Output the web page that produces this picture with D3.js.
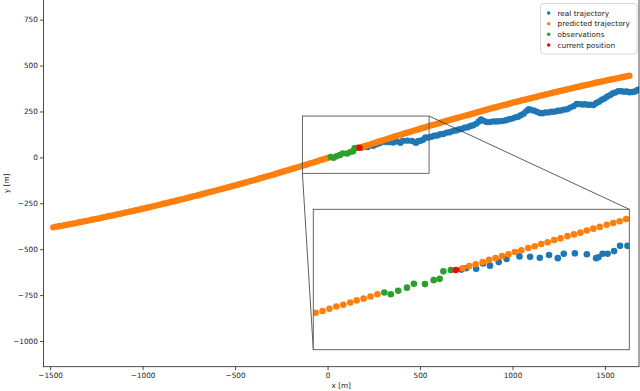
<!DOCTYPE html>
<html><head><meta charset="utf-8">
<script src="https://cdn.jsdelivr.net/npm/d3@7"></script>
<style>
html,body{margin:0;padding:0;background:#fff;}
svg{display:block;font-family:"DejaVu Sans",sans-serif;}
</style></head>
<body><svg id="chart" width="640" height="391"></svg>
<script>
// ---- data ----
const predLeftX = [-1483,-1468,-1453,-1438,-1424,-1409,-1394,-1379,-1364,-1349,-1334,-1320,-1305,-1290,-1275,-1260,-1245,-1230,-1216,-1201,-1186,-1171,-1156,-1141,-1126,-1112,-1097,-1082,-1067,-1052,-1037,-1022,-1007,-993,-978,-963,-948,-933,-918,-903,-889,-874,-859,-844,-829,-814,-799,-785,-770,-755,-740,-725,-710,-695,-681,-666,-651,-636,-621,-606,-591,-577,-562,-547,-532,-517,-502,-487,-473,-458,-443,-428,-413,-398,-383,-369,-354,-339,-324,-309,-294,-279,-264,-250,-235,-220,-205,-190,-175,-160,-146,-131,-116,-101,-86,-71,-56,-42,-27,-12,3];
const predLeftY = [-381,-378,-375,-373,-370,-367,-364,-361,-358,-355,-352,-349,-346,-343,-340,-337,-334,-331,-327,-324,-321,-318,-315,-311,-308,-305,-302,-298,-295,-292,-288,-285,-281,-278,-274,-271,-267,-264,-260,-257,-253,-250,-246,-242,-239,-235,-231,-228,-224,-220,-216,-212,-209,-205,-201,-197,-193,-189,-185,-181,-177,-173,-169,-165,-161,-157,-153,-149,-145,-141,-137,-132,-128,-124,-120,-115,-111,-107,-102,-98,-94,-89,-85,-80,-76,-71,-67,-62,-58,-53,-49,-44,-40,-35,-30,-26,-21,-16,-12,-7,-2];
const predRightX = [188,202,216,231,245,259,273,287,301,315,330,344,358,372,386,400,415,429,443,457,471,485,500,514,528,542,556,570,584,599,613,627,641,655,669,684,698,712,726,740,754,769,783,797,811,825,839,854,868,882,896,910,924,938,953,967,981,995,1009,1023,1038,1052,1066,1080,1094,1108,1123,1137,1151,1165,1179,1193,1208,1222,1236,1250,1264,1278,1292,1307,1321,1335,1349,1363,1377,1392,1406,1420,1434,1448,1462,1477,1491,1505,1519,1533,1547,1562,1576,1590,1604,1618,1632];
const predRightY = [57,62,66,71,76,80,85,89,94,98,103,107,112,116,121,125,130,134,138,143,147,151,156,160,164,169,173,177,181,185,190,194,198,202,206,210,214,218,222,226,230,234,238,242,246,250,254,258,262,266,270,273,277,281,285,288,292,296,300,303,307,311,314,318,321,325,328,332,336,339,343,346,349,353,356,360,363,366,370,373,376,380,383,386,390,393,396,399,402,406,409,412,415,418,421,424,427,430,433,436,439,442,445];
const realX = [185,195,217,232,247,266,283,311,334,355,375,394,407,431,457,477,482,491,502,516,529,545,562,578,593,610,626,644,660,676,693,709,725,741,758,773,788,805,818,830,845,860,877,895,912,930,948,965,982,998,1015,1030,1045,1060,1075,1088,1102,1118,1133,1148,1162,1178,1195,1212,1228,1245,1262,1278,1295,1312,1330,1347,1362,1378,1393,1408,1423,1438,1453,1468,1483,1498,1513,1528,1543,1558,1572,1588,1603,1618,1633,1648,1662,1676,1690];
const realY = [54,57,56,68,63,71,78,84,83,81,87,80,90,91,89,80,82,90,90,96,108,108,112,118,119,126,127,135,137,143,146,152,155,161,164,171,175,184,196,207,199,193,192,196,195,197,199,202,208,211,218,221,229,238,252,262,258,254,248,242,240,244,245,249,249,254,255,260,262,271,279,291,290,288,289,286,287,285,296,303,314,321,332,339,349,354,361,360,358,359,355,356,359,367,372];
const obsX = [18,32,48,67,82,106,125,138,146,162];
const obsY = [2,-2,6,13,22,21,30,33,50,53];
const curX = [173];
const curY = [53];
const xTicks = [-1500,-1000,-500,0,500,1000,1500];
const yTicks = [-1000,-750,-500,-250,0,250,500,750];
const legendLabels = ["real trajectory","predicted trajectory","observations","current position"];
const colors = ["#1f77b4","#ff7f0e","#2ca02c","#ff0000"];
const xLabel = "x [m]", yLabel = "y [m]";
const zoomX = [-136, 549], zoomRectY = [-87, 225], zoomViewY = [-128, 191];

const zip = (xs, ys) => xs.map((x, i) => [x, ys[i]]);
const series = [
  zip(realX, realY),
  zip(predLeftX, predLeftY).concat(zip(predRightX, predRightY)),
  zip(obsX, obsY),
  zip(curX, curY)
];

const svg = d3.select("#chart");
const FS = 7.3;
const M = {l: 43.5, r: 639, t: -0.5, b: 366.7};
const x = d3.scaleLinear().domain([-1536, 1684]).range([M.l, M.r]);
const y = d3.scaleLinear().domain([-1140, 857]).range([M.b, 0]);

svg.append("defs").append("clipPath").attr("id", "clipMain")
  .append("rect").attr("x", M.l).attr("y", M.t).attr("width", M.r - M.l).attr("height", M.b - M.t);

const gMain = svg.append("g").attr("clip-path", "url(#clipMain)");
series.forEach((pts, i) => {
  gMain.append("g").selectAll("circle").data(pts).join("circle")
    .attr("cx", d => x(d[0])).attr("cy", d => y(d[1])).attr("r", 3.2).attr("fill", colors[i]);
});

// zoom rectangle on main axes
gMain.append("rect")
  .attr("x", x(zoomX[0])).attr("y", y(zoomRectY[1]))
  .attr("width", x(zoomX[1]) - x(zoomX[0])).attr("height", y(zoomRectY[0]) - y(zoomRectY[1]))
  .attr("fill", "none").attr("stroke", "#555").attr("stroke-width", 0.9);

// inset geometry
const I = {l: 313.3, r: 629.3, t: 209.3, b: 349.7};
const xi = d3.scaleLinear().domain(zoomX).range([I.l, I.r]);
const yi = d3.scaleLinear().domain(zoomViewY).range([I.b, I.t]);

// connector lines
svg.append("line").attr("x1", x(zoomX[1])).attr("y1", y(zoomRectY[1])).attr("x2", I.r).attr("y2", I.t)
  .attr("stroke", "#333").attr("stroke-width", 0.8);
svg.append("line").attr("x1", x(zoomX[0])).attr("y1", y(zoomRectY[0])).attr("x2", I.l).attr("y2", I.b)
  .attr("stroke", "#333").attr("stroke-width", 0.8);

// main axes
const fmt = d3.format("d");
const xAxis = d3.axisBottom(x).tickValues(xTicks).tickFormat(fmt).tickSize(3.5).tickPadding(2.5);
const yAxis = d3.axisLeft(y).tickValues(yTicks).tickFormat(fmt).tickSize(3.5).tickPadding(2.2);
const gx = svg.append("g").attr("transform", `translate(0,${M.b})`).call(xAxis);
const gy = svg.append("g").attr("transform", `translate(${M.l},0)`).call(yAxis);
[gx, gy].forEach(g => {
  g.select(".domain").remove();
  g.selectAll("text").attr("font-size", FS).attr("fill", "#222").attr("font-family", "DejaVu Sans");
  g.selectAll("line").attr("stroke", "#222").attr("stroke-width", 0.8);
});
svg.append("rect").attr("x", M.l).attr("y", M.t).attr("width", M.r - M.l).attr("height", M.b - M.t)
  .attr("fill", "none").attr("stroke", "#222").attr("stroke-width", 0.8);

svg.append("text").attr("x", (M.l + M.r) / 2).attr("y", 388).attr("text-anchor", "middle")
  .attr("font-size", FS).attr("fill", "#222").text(xLabel);
svg.append("text").attr("transform", `translate(8.5,${(0 + M.b) / 2}) rotate(-90)`).attr("text-anchor", "middle")
  .attr("font-size", FS).attr("fill", "#222").text(yLabel);

// inset axes
svg.select("defs").append("clipPath").attr("id", "clipInset")
  .append("rect").attr("x", I.l).attr("y", I.t).attr("width", I.r - I.l).attr("height", I.b - I.t);
svg.append("rect").attr("x", I.l).attr("y", I.t).attr("width", I.r - I.l).attr("height", I.b - I.t).attr("fill", "#fff");
const gIn = svg.append("g").attr("clip-path", "url(#clipInset)");
series.forEach((pts, i) => {
  gIn.append("g").selectAll("circle").data(pts).join("circle")
    .attr("cx", d => xi(d[0])).attr("cy", d => yi(d[1])).attr("r", 3.3).attr("fill", colors[i]);
});
svg.append("rect").attr("x", I.l).attr("y", I.t).attr("width", I.r - I.l).attr("height", I.b - I.t)
  .attr("fill", "none").attr("stroke", "#555").attr("stroke-width", 0.9);

// legend
const L = {x: 540.5, y: 3.5, w: 96.5, h: 50.5};
svg.append("rect").attr("x", L.x).attr("y", L.y).attr("width", L.w).attr("height", L.h).attr("rx", 3)
  .attr("fill", "#fff").attr("fill-opacity", 0.8).attr("stroke", "#cccccc").attr("stroke-width", 0.8);
const rowY = [13, 23.7, 34.3, 45];
legendLabels.forEach((lab, i) => {
  svg.append("circle").attr("cx", 548.7).attr("cy", rowY[i]).attr("r", 1.8).attr("fill", colors[i]);
  svg.append("text").attr("x", 557.5).attr("y", rowY[i] + 2.6).attr("font-size", FS).attr("fill", "#222").text(lab);
});
</script></body></html>
